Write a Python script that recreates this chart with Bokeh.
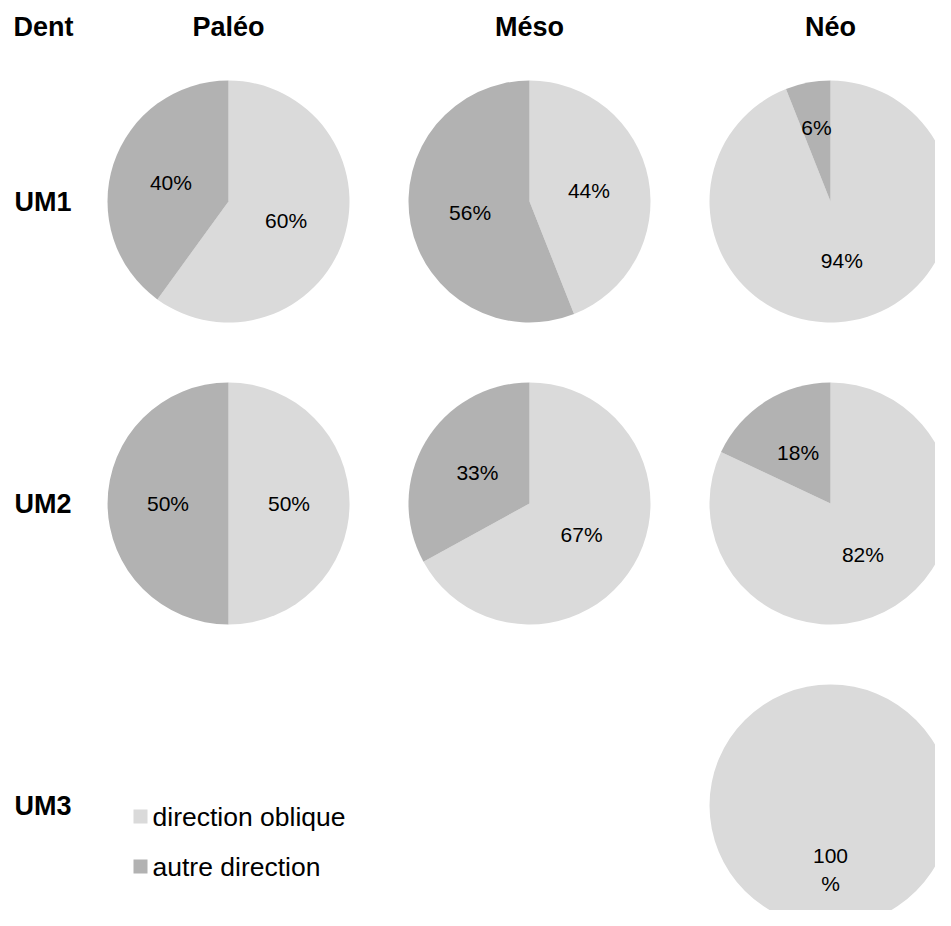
import math
from bokeh.plotting import figure
from bokeh.models import Range1d, ColumnDataSource
from bokeh.core.properties import value
from bokeh.embed import file_html
from bokeh.resources import INLINE

# ---------------- data ----------------
periods = ["Paléo", "Méso", "Néo"]
teeth = ["UM1", "UM2", "UM3"]
corner_label = "Dent"
series_names = ["direction oblique", "autre direction"]

oblique_um1 = [60, 44, 94]
autre_um1 = [40, 56, 6]
oblique_um2 = [50, 67, 82]
autre_um2 = [50, 33, 18]
oblique_um3 = [None, None, 100]
autre_um3 = [None, None, 0]

# ---------------- style / layout ----------------
COLORS = ["#dadada", "#b2b2b2"]
FONT = "Liberation Sans"
W, H = 935, 910
R = 121               # pie radius
COL_X0, COL_DX = 228, 301
ROW_Y0, ROW_DY = 201, 302
HEADER_Y = 26
LEFT_X = 13


def sy(y):
    # layout y measured downward from the top -> data y (upward)
    return H - y


p = figure(width=W, height=H, x_range=Range1d(0, W), y_range=Range1d(0, H),
           output_backend="svg", toolbar_location=None, min_border=0,
           x_axis_type=None, y_axis_type=None)
p.grid.visible = False
p.outline_line_color = None
p.background_fill_color = "white"
p.border_fill_color = "white"

rows = [(oblique_um1, autre_um1), (oblique_um2, autre_um2), (oblique_um3, autre_um3)]

w = dict(x=[], y=[], start=[], end=[], color=[])
c = dict(x=[], y=[], color=[])
lab = dict(x=[], y=[], text=[])

for j, (obl, aut) in enumerate(rows):
    cy = sy(ROW_Y0 + j * ROW_DY)
    for i in range(len(periods)):
        if obl[i] is None:
            continue
        cx = COL_X0 + i * COL_DX
        vals = [obl[i], aut[i]]
        total = float(sum(vals))
        cum = 0.0
        for k, v in enumerate(vals):
            frac = v / total
            if frac <= 0:
                continue
            f0, f1 = cum, cum + frac
            cum = f1
            if frac >= 0.9999:
                c["x"].append(cx); c["y"].append(cy); c["color"].append(COLORS[k])
                txt = f"{v}\n%"
                lr = 0.53 * R
            else:
                w["x"].append(cx); w["y"].append(cy)
                w["start"].append(math.pi / 2 - 2 * math.pi * f0)
                w["end"].append(math.pi / 2 - 2 * math.pi * f1)
                w["color"].append(COLORS[k])
                txt = f"{v}%"
                lr = (0.62 if frac < 0.1 else 0.5) * R
            mid = math.pi / 2 - 2 * math.pi * (f0 + f1) / 2
            lab["x"].append(cx + lr * math.cos(mid))
            lab["y"].append(cy + lr * math.sin(mid))
            lab["text"].append(txt)

p.wedge(x="x", y="y", radius=R, start_angle="start", end_angle="end", direction="clock",
        fill_color="color", line_color=None, source=ColumnDataSource(w))
p.circle(x="x", y="y", radius=R, fill_color="color", line_color=None, source=ColumnDataSource(c))
p.text(x="x", y="y", text="text", source=ColumnDataSource(lab), text_align="center",
       text_baseline="middle", text_font=value(FONT), text_font_size="21px",
       text_color="#000000", text_line_height=1.2)

# headers
p.text(x=[COL_X0 + i * COL_DX for i in range(len(periods))], y=[sy(HEADER_Y)] * len(periods),
       text=periods, text_align="center", text_baseline="middle", text_font=value(FONT),
       text_font_size="27px", text_font_style="bold", text_color="#000000")
p.text(x=[LEFT_X], y=[sy(HEADER_Y)], text=[corner_label], text_align="left",
       text_baseline="middle", text_font=value(FONT), text_font_size="27px",
       text_font_style="bold", text_color="#000000")
p.text(x=[LEFT_X + 1] * len(teeth), y=[sy(ROW_Y0 + j * ROW_DY) for j in range(len(teeth))],
       text=teeth, text_align="left", text_baseline="middle", text_font=value(FONT),
       text_font_size="27px", text_font_style="bold", text_color="#000000")

# legend
LEG_X, LEG_Y0, LEG_DY, SQ = 140, 816, 50, 14
p.rect(x=[LEG_X] * 2, y=[sy(LEG_Y0 + k * LEG_DY) for k in range(2)], width=SQ, height=SQ,
       fill_color=COLORS, line_color=None)
p.text(x=[LEG_X + 12] * 2, y=[sy(LEG_Y0 + k * LEG_DY) for k in range(2)], text=series_names,
       text_align="left", text_baseline="middle", text_font=value(FONT),
       text_font_size="26.5px", text_color="#000000")

open("out.html", "w").write(file_html(p, INLINE))
